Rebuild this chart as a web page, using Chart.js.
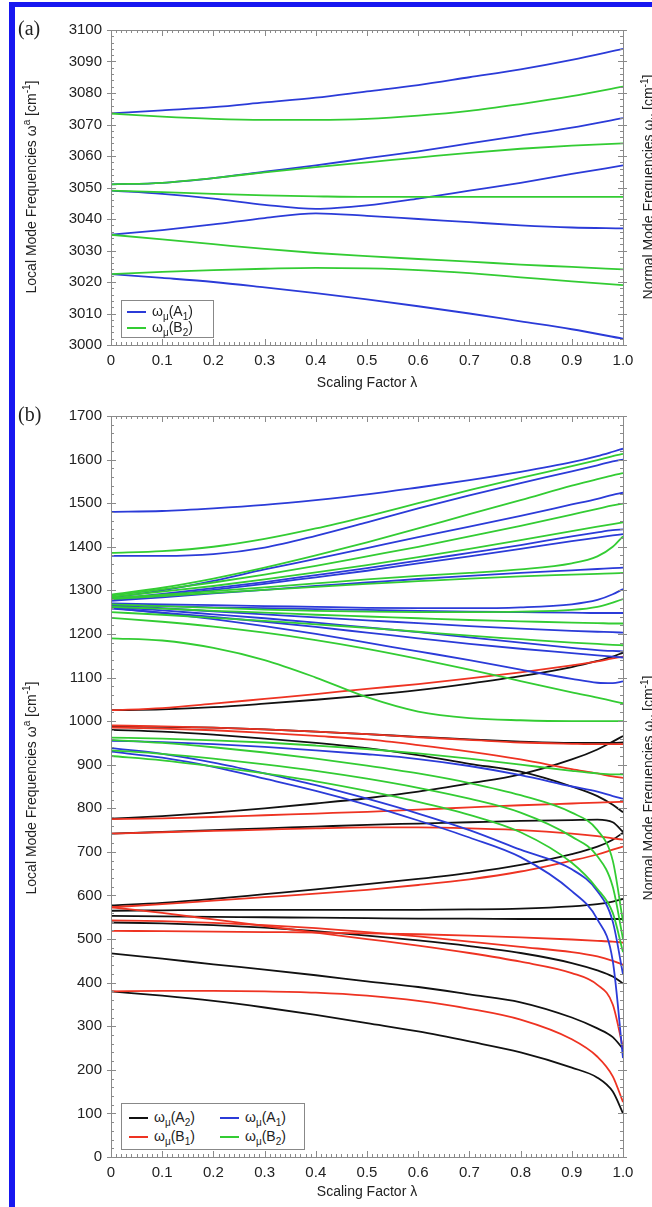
<!DOCTYPE html>
<html>
<head>
<meta charset="utf-8">
<script src="https://cdn.jsdelivr.net/npm/chart.js@4.4.0/dist/chart.umd.min.js"></script>
<style>
  body { margin:0; background:#fff; width:652px; height:1207px; position:relative; overflow:hidden; font-family:"Liberation Sans", Arial, sans-serif; color:#222; }
  canvas { position:absolute; left:0; }
  .frame { position:absolute; background:#1717f0; }
  .ytitle { position:absolute; white-space:nowrap; transform:translate(-50%,-50%) rotate(-90deg); font-size:14px; }
  .ytitle sup, .ytitle sub, .legend sub { font-size:10px; }
  .panel { position:absolute; font-family:"Liberation Serif", "DejaVu Serif", serif; font-size:20px; }
  .legend { position:absolute; border:1px solid #888; background:#fff; font-size:14px; }
  .item { position:absolute; white-space:nowrap; line-height:16px; }
  .item i { display:inline-block; width:19px; height:2px; vertical-align:middle; margin-right:6px; }
</style>
</head>
<body>
<div class="frame" style="left:9px;top:2px;width:643px;height:5px"></div>
<div class="frame" style="left:9px;top:2px;width:6px;height:1205px"></div>

<canvas id="chartA" width="652" height="398" style="top:0"></canvas>
<canvas id="chartB" width="652" height="809" style="top:398px"></canvas>

<div class="panel" style="left:18px;top:17px">(a)</div>
<div class="panel" style="left:18px;top:403px">(b)</div>

<div class="ytitle" style="left:30px;top:187px">Local Mode Frequencies ω<sup>a</sup> [cm<sup>-1</sup>]</div>
<div class="ytitle" style="left:649px;top:187px">Normal Mode Frequencies ω<sub>μ</sub> [cm<sup>-1</sup>]</div>
<div class="ytitle" style="left:30px;top:788px">Local Mode Frequencies ω<sup>a</sup> [cm<sup>-1</sup>]</div>
<div class="ytitle" style="left:649px;top:788px">Normal Mode Frequencies ω<sub>μ</sub> [cm<sup>-1</sup>]</div>

<div class="legend" style="left:121px;top:300px;width:91px;height:36px">
  <div class="item" style="left:5px;top:2px"><i style="background:#2b3bd8"></i>ω<sub>μ</sub>(A<sub>1</sub>)</div>
  <div class="item" style="left:5px;top:18px"><i style="background:#33cc33"></i>ω<sub>μ</sub>(B<sub>2</sub>)</div>
</div>
<div class="legend" style="left:121px;top:1103px;width:182px;height:45px">
  <div class="item" style="left:7px;top:5px"><i style="background:#111"></i>ω<sub>μ</sub>(A<sub>2</sub>)</div>
  <div class="item" style="left:7px;top:24px"><i style="background:#ee3322"></i>ω<sub>μ</sub>(B<sub>1</sub>)</div>
  <div class="item" style="left:98px;top:5px"><i style="background:#2b3bd8"></i>ω<sub>μ</sub>(A<sub>1</sub>)</div>
  <div class="item" style="left:98px;top:24px"><i style="background:#33cc33"></i>ω<sub>μ</sub>(B<sub>2</sub>)</div>
</div>

<script>
// scaling factor grids
const lamA = [0, 0.1, 0.2, 0.3, 0.4, 0.5, 0.6, 0.7, 0.8, 0.9, 1.0];
const lamB = [0, 0.1, 0.2, 0.3, 0.4, 0.5, 0.6, 0.7, 0.8, 0.9, 0.95, 0.98, 1.0];

// panel (a): CH stretching region
const stretchA1 = [
  [3073.5, 3074.5, 3075.5, 3077, 3078.5, 3080.5, 3082.5, 3085, 3087.5, 3090.5, 3094],
  [3051, 3051.5, 3053, 3055, 3057, 3059.3, 3061.5, 3064, 3066.5, 3069, 3072],
  [3049, 3048, 3046.5, 3044.5, 3043.2, 3044.3, 3046.5, 3049, 3051.5, 3054.3, 3057],
  [3035, 3036.5, 3038.3, 3040.3, 3041.8, 3041, 3040, 3039, 3038, 3037.3, 3037],
  [3022.5, 3021.3, 3020, 3018.3, 3016.5, 3014.5, 3012.3, 3010, 3007.5, 3005, 3002]
];
const stretchB2 = [
  [3073.5, 3072.5, 3071.8, 3071.5, 3071.5, 3071.8, 3072.8, 3074.3, 3076.5, 3079, 3082],
  [3051, 3051.5, 3053, 3054.8, 3056.5, 3058, 3059.5, 3061, 3062.3, 3063.3, 3064],
  [3049, 3048.5, 3048, 3047.5, 3047.2, 3047, 3047, 3047, 3047, 3047, 3047],
  [3035, 3033.5, 3032, 3030.5, 3029.2, 3028.2, 3027.3, 3026.5, 3025.5, 3024.8, 3024],
  [3022.5, 3023.2, 3023.8, 3024.2, 3024.5, 3024.3, 3023.8, 3022.8, 3021.5, 3020.2, 3019]
];

// panel (b): low frequency modes
const lowA1 = [
  [1480, 1482, 1488, 1496, 1507, 1520, 1536, 1553, 1572, 1594, 1608, 1618, 1625],
  [1379, 1379, 1383, 1398, 1425, 1456, 1488, 1518, 1546, 1573, 1587, 1596, 1600],
  [1283, 1300, 1322, 1348, 1372, 1397, 1422, 1446, 1471, 1497, 1510, 1519, 1524],
  [1280, 1292, 1305, 1319, 1335, 1351, 1368, 1386, 1404, 1424, 1433, 1438, 1440],
  [1278, 1289, 1301, 1315, 1330, 1345, 1362, 1378, 1395, 1413, 1421, 1426, 1429],
  [1276, 1284, 1293, 1301, 1310, 1318, 1326, 1333, 1340, 1346, 1349, 1351, 1352],
  [1270, 1268, 1266, 1264, 1262, 1260, 1259, 1259, 1261, 1268, 1278, 1291, 1303],
  [1266, 1264, 1261, 1259, 1257, 1255, 1253, 1251, 1250, 1249, 1248, 1248, 1248],
  [1265, 1259, 1252, 1245, 1238, 1231, 1225, 1218, 1212, 1207, 1205, 1204, 1203],
  [1262, 1254, 1245, 1236, 1226, 1215, 1204, 1192, 1180, 1168, 1163, 1161, 1160],
  [1258, 1249, 1239, 1228, 1216, 1203, 1190, 1177, 1166, 1156, 1151, 1148, 1146],
  [1260, 1248, 1234, 1218, 1200, 1180, 1160, 1140, 1118, 1097, 1088, 1087, 1091],
  [955, 952, 947, 941, 933, 924, 913, 897, 876, 850, 838, 828, 822],
  [938, 925, 905, 880, 853, 822, 788, 750, 705, 660, 610, 540, 419],
  [930, 916, 895, 868, 840, 808, 772, 733, 688, 610, 545, 450, 227]
];
const lowB2 = [
  [1386, 1390, 1400, 1418, 1442, 1470, 1500, 1530, 1558, 1585, 1599, 1608, 1613],
  [1290, 1306, 1327, 1352, 1380, 1410, 1442, 1475, 1507, 1540, 1555, 1564, 1569],
  [1288, 1302, 1318, 1336, 1356, 1378, 1400, 1424, 1448, 1474, 1487, 1495, 1499],
  [1285, 1297, 1310, 1325, 1341, 1358, 1376, 1395, 1415, 1436, 1446, 1452, 1456],
  [1282, 1290, 1298, 1307, 1316, 1325, 1333, 1340, 1348, 1362, 1378, 1400, 1424],
  [1280, 1287, 1294, 1301, 1308, 1315, 1321, 1327, 1332, 1336, 1338, 1339, 1340],
  [1268, 1264, 1260, 1256, 1253, 1251, 1250, 1250, 1251, 1255, 1262, 1272, 1280],
  [1262, 1258, 1253, 1249, 1244, 1240, 1236, 1232, 1229, 1226, 1225, 1224, 1224],
  [1250, 1244, 1237, 1230, 1222, 1214, 1205, 1196, 1188, 1180, 1177, 1175, 1174],
  [1237, 1228, 1217, 1203, 1186, 1166, 1143, 1118, 1092, 1066, 1054, 1046, 1041],
  [1190, 1185, 1168, 1140, 1100, 1055, 1022, 1007, 1002, 1000, 1000, 1000, 1000],
  [962, 960, 956, 951, 944, 936, 926, 914, 900, 886, 880, 878, 878],
  [957, 950, 940, 928, 914, 898, 880, 858, 830, 790, 750, 680, 540],
  [933, 925, 914, 901, 886, 868, 847, 822, 790, 735, 690, 620, 500],
  [920, 910, 896, 880, 862, 840, 815, 785, 745, 675, 615, 560, 470]
];
const lowB1 = [
  [1025, 1030, 1040, 1051, 1062, 1074, 1085, 1098, 1112, 1128, 1137, 1144, 1148],
  [990, 988, 985, 981, 976, 970, 963, 957, 951, 948, 947, 947, 947],
  [985, 983, 979, 973, 966, 958, 945, 930, 912, 890, 880, 873, 870],
  [775, 777, 780, 784, 788, 792, 797, 802, 807, 811, 813, 814, 815],
  [742, 745, 748, 751, 754, 756, 756, 754, 750, 742, 736, 731, 728],
  [573, 580, 588, 596, 604, 613, 624, 637, 655, 680, 694, 705, 712],
  [573, 560, 545, 530, 515, 500, 485, 468, 448, 422, 395, 350, 250],
  [543, 541, 537, 532, 525, 516, 506, 494, 482, 470, 460, 450, 441],
  [519, 518, 517, 516, 515, 513, 511, 508, 504, 499, 496, 494, 492],
  [380, 381, 381, 380, 377, 370, 358, 340, 315, 270, 230, 185, 126]
];
const lowA2 = [
  [1025, 1027, 1032, 1040, 1049, 1059, 1071, 1086, 1103, 1124, 1138, 1148, 1157],
  [988, 987, 985, 981, 976, 970, 964, 958, 953, 950, 950, 950, 951],
  [980, 976, 969, 960, 950, 938, 922, 902, 884, 850, 828, 808, 791],
  [776, 782, 790, 800, 811, 823, 838, 857, 878, 912, 935, 953, 966],
  [742, 746, 750, 754, 758, 762, 765, 768, 771, 773, 774, 768, 746],
  [577, 583, 592, 603, 614, 626, 638, 652, 670, 695, 712, 728, 744],
  [565, 566, 567, 567, 567, 567, 567, 568, 570, 575, 580, 586, 592],
  [553, 552, 551, 550, 549, 548, 547, 547, 546, 546, 546, 546, 546],
  [538, 536, 532, 526, 518, 508, 497, 484, 468, 445, 428, 414, 398],
  [467, 455, 442, 430, 417, 403, 390, 373, 355, 320, 295, 275, 248],
  [380, 370, 358, 343, 326, 307, 288, 265, 240, 205, 182, 150, 100]
];

const BLUE = '#2b3bd8', GREEN = '#33cc33', RED = '#ee3322', BLACK = '#111111';

function series(list, xs, color) {
  return list.map(vals => ({
    data: vals.map((v, k) => ({ x: xs[k], y: v })),
    borderColor: color, borderWidth: 1.8, pointRadius: 0, fill: false,
    cubicInterpolationMode: 'monotone'
  }));
}

// box + inward ticks on all four sides
const frameTicks = {
  id: 'frameTicks',
  afterDatasetsDraw(chart, args, opts) {
    const { ctx, chartArea: a, scales: { x, y } } = chart;
    ctx.save();
    ctx.strokeStyle = '#8a8a8a';
    ctx.lineWidth = 1;
    ctx.strokeRect(Math.round(a.left) + 0.5, Math.round(a.top) + 0.5, Math.round(a.right - a.left), Math.round(a.bottom - a.top));
    ctx.beginPath();
    for (let i = 0; i <= 100; i++) {
      const px = Math.round(x.getPixelForValue(i / 100)) + 0.5;
      const len = i % 10 === 0 ? 6 : 3;
      ctx.moveTo(px, a.bottom); ctx.lineTo(px, a.bottom - len);
      ctx.moveTo(px, a.top); ctx.lineTo(px, a.top + len);
    }
    for (let v = y.min; v <= y.max + 1e-6; v += opts.minor) {
      const py = Math.round(y.getPixelForValue(v)) + 0.5;
      const major = Math.abs((v - y.min) % opts.major) < 1e-6;
      const len = major ? 5 : 3;
      ctx.moveTo(a.left - (major ? 4 : 0), py); ctx.lineTo(a.left + len, py);
      ctx.moveTo(a.right + (major ? 4 : 0), py); ctx.lineTo(a.right - len, py);
    }
    ctx.stroke();
    ctx.restore();
  }
};

function options(cfg) {
  const tickFont = { family: '"Liberation Sans", Arial, sans-serif', size: 15 };
  const titleFont = { family: '"Liberation Sans", Arial, sans-serif', size: 14 };
  return {
    responsive: false, animation: false, devicePixelRatio: 1,
    layout: { padding: { top: cfg.padTop, right: 29, left: 0, bottom: 0 } },
    plugins: { legend: { display: false }, tooltip: { enabled: false }, frameTicks: { major: cfg.major, minor: cfg.minor } },
    scales: {
      x: {
        type: 'linear', min: 0, max: 1,
        grid: { display: false, drawTicks: false }, border: { display: false },
        ticks: { stepSize: 0.1, padding: 7, color: '#222', font: tickFont, maxRotation: 0,
                 callback: v => v === 0 ? '0' : v.toFixed(1) },
        title: { display: true, text: 'Scaling Factor λ', color: '#222', font: titleFont, padding: { top: 0, bottom: 6 } },
        afterFit: s => { s.height = cfg.xHeight; }
      },
      y: {
        min: cfg.ymin, max: cfg.ymax,
        grid: { display: false, drawTicks: false }, border: { display: false },
        ticks: { stepSize: cfg.major, padding: 9, color: '#222', font: tickFont, callback: v => String(v) },
        afterFit: s => { s.width = 111; }
      }
    }
  };
}

new Chart(document.getElementById('chartA'), {
  type: 'line',
  data: { datasets: [...series(stretchB2, lamA, GREEN), ...series(stretchA1, lamA, BLUE)] },
  options: options({ padTop: 30, xHeight: 53, ymin: 3000, ymax: 3100, major: 10, minor: 2 }),
  plugins: [frameTicks]
});

new Chart(document.getElementById('chartB'), {
  type: 'line',
  data: { datasets: [
    ...series(lowB2, lamB, GREEN), ...series(lowA1, lamB, BLUE),
    ...series(lowB1, lamB, RED), ...series(lowA2, lamB, BLACK)
  ] },
  options: options({ padTop: 18, xHeight: 50, ymin: 0, ymax: 1700, major: 100, minor: 20 }),
  plugins: [frameTicks]
});
</script>
</body>
</html>
